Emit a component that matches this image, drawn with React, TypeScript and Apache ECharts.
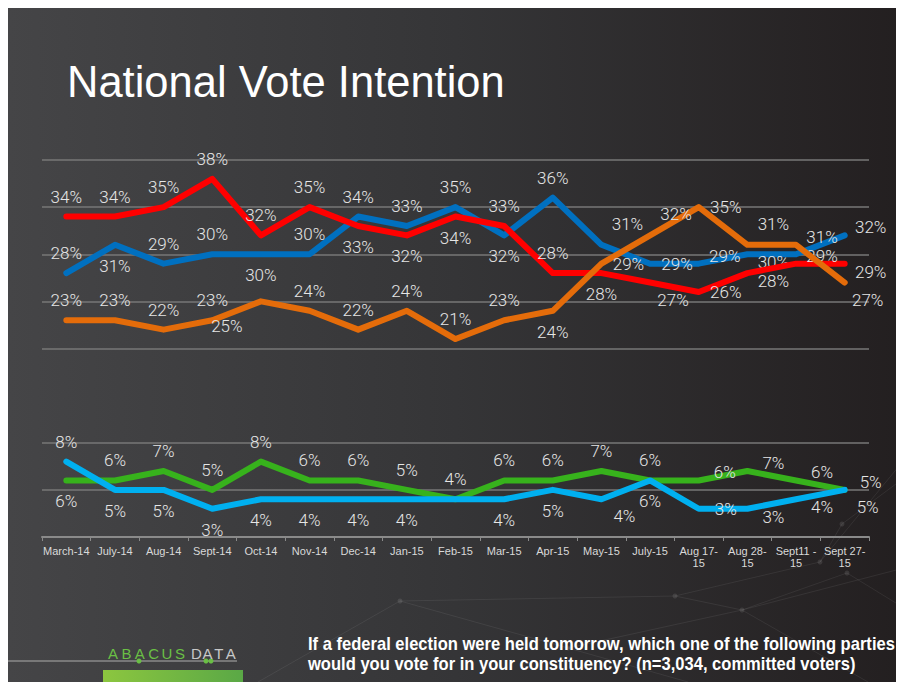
import React, { useEffect, useRef } from "react";
import * as echarts from "echarts";

// ---- data ----
const categories = [
  "March-14", "July-14", "Aug-14", "Sept-14", "Oct-14", "Nov-14", "Dec-14", "Jan-15", "Feb-15",
  "Mar-15", "Apr-15", "May-15", "July-15", "Aug 17-\n15", "Aug 28-\n15", "Sept11 -\n15", "Sept 27-\n15",
];
const conservative = [28, 31, 29, 30, 30, 30, 34, 33, 35, 32, 36, 31, 29, 29, 30, 30, 32];
const liberal = [34, 34, 35, 38, 32, 35, 33, 32, 34, 33, 28, 28, 27, 26, 28, 29, 29];
const ndp = [23, 23, 22, 23, 25, 24, 22, 24, 21, 23, 24, 29, 32, 35, 31, 31, 27];
const greenParty = [6, 6, 7, 5, 8, 6, 6, 5, 4, 6, 6, 7, 6, 6, 7, 6, 5];
const bloc = [8, 5, 5, 3, 4, 4, 4, 4, 4, 4, 5, 4, 6, 3, 3, 4, 5];
const yTicks = [0, 5, 10, 15, 20, 25, 30, 35, 40];

// ---- label placement (style) ----
const OFF: Record<string, number[]> = {
  T: [0, -20], B: [0, 21], R: [27, 0], RU: [26, -8], RD: [26, 8],
  TR: [26, -21], BR: [23, 17], BL: [-34, 25],
};
const placeCon = ["T","B","T","T","B","T","T","T","T","B","T","TR","R","RU","RD","-","RU"];
const placeLib = ["T","T","T","T","T","T","B","B","B","T","T","B","BR","R","RD","RU","RD"];
const placeNdp = ["T","T","T","T","BL","T","T","T","T","T","B","R","TR","R","TR","RU","BR"];
const placeGrn = ["B","T","T","T","T","T","T","T","T","T","T","T","T","RU","RU","RU","RU"];
const placeBloc = ["T","B","B","B","B","B","B","B","-","B","B","BR","B","R","RD","RD","BR"];

const GRID_C = "#777777";

function mkSeries(name: string, values: number[], color: string, place: string[], z: number) {
  return {
    name,
    type: "line",
    z,
    data: values.map((v, i) => ({
      value: v,
      label: place[i] === "-" ? { show: false } : { offset: OFF[place[i]] },
    })),
    symbol: "circle",
    symbolSize: 2,
    showSymbol: true,
    itemStyle: { color },
    lineStyle: { color, width: 6, cap: "round", join: "round" },
    label: {
      show: true,
      position: "inside",
      formatter: "{c}%",
      color: "#e6e6e6",
      fontFamily: "Roboto, 'Liberation Sans', sans-serif",
      fontWeight: 300,
      fontSize: 17,
    },
    emphasis: { disabled: true },
  };
}

export default function App() {
  const ref = useRef<HTMLDivElement>(null);
  useEffect(() => {
    if (!ref.current) return;
    const chart = echarts.init(ref.current, null, { renderer: "svg" });

    const deco = "rgba(255,255,255,0.07)";
    const abacus = "ABACUS".split("");
    const data = "DATA".split("");

    const graphics: any[] = [
      // decorative network lines
      { type: "polyline", silent: true, shape: { points: [[250, 674], [392, 593], [560, 640], [680, 674]] }, style: { stroke: deco, lineWidth: 1, fill: "none" } },
      { type: "polyline", silent: true, shape: { points: [[392, 593], [667, 588], [734, 602], [896, 560]] }, style: { stroke: deco, lineWidth: 1, fill: "none" } },
      { type: "polyline", silent: true, shape: { points: [[667, 588], [812, 554], [896, 452]] }, style: { stroke: deco, lineWidth: 1, fill: "none" } },
      { type: "polyline", silent: true, shape: { points: [[812, 554], [834, 516], [896, 470]] }, style: { stroke: deco, lineWidth: 1, fill: "none" } },
      { type: "polyline", silent: true, shape: { points: [[734, 602], [839, 565], [896, 600]] }, style: { stroke: deco, lineWidth: 1, fill: "none" } },
      { type: "polyline", silent: true, shape: { points: [[560, 640], [734, 602], [860, 674]] }, style: { stroke: deco, lineWidth: 1, fill: "none" } },
      ...[[392, 593], [667, 588], [734, 602], [812, 554], [834, 516], [839, 565], [560, 640]].map((p) => ({
        type: "circle", silent: true, shape: { cx: p[0], cy: p[1], r: 2.5 }, style: { fill: "rgba(255,255,255,0.1)" },
      })),
      // title
      {
        type: "text", left: 59, top: 52,
        style: { text: "National Vote Intention", fill: "#ffffff", fontSize: 43.5, fontFamily: "'Liberation Sans', Arial, sans-serif" },
      },
      // question text
      {
        type: "text", x: 300, y: 626, scaleX: 0.92,
        style: {
          text: "If a federal election were held tomorrow, which one of the following parties\nwould you vote for in your constituency? (n=3,034, committed voters)",
          fill: "#ffffff", fontSize: 18, fontWeight: "bold", lineHeight: 20,
          fontFamily: "'Liberation Sans', Arial, sans-serif",
        },
      },
      // logo
      { type: "line", silent: true, shape: { x1: 0, y1: 653, x2: 229, y2: 653 }, style: { stroke: "#8a8a8a", lineWidth: 1.5 } },
      { type: "circle", silent: true, shape: { cx: 131, cy: 653, r: 2.5 }, style: { fill: "#6abf45" } },
      { type: "circle", silent: true, shape: { cx: 198, cy: 653, r: 2.5 }, style: { fill: "#6abf45" } },
      { type: "circle", silent: true, shape: { cx: 203, cy: 653, r: 2.5 }, style: { fill: "#6abf45" } },
      {
        type: "rect", silent: true, shape: { x: 95, y: 662, width: 140, height: 14 },
        style: { fill: new echarts.graphic.LinearGradient(0, 0, 1, 0, [{ offset: 0, color: "#8cc63f" }, { offset: 1, color: "#5aa846" }]) },
      },
      ...abacus.map((ch, i) => ({
        type: "text", silent: true, x: 100 + i * 13.4, y: 638,
        style: { text: ch, fill: "#6abf45", fontSize: 15, fontFamily: "'Liberation Sans', Arial, sans-serif" },
      })),
      ...data.map((ch, i) => ({
        type: "text", silent: true, x: 183 + i * 11.6, y: 638,
        style: { text: ch, fill: "#c8c8c8", fontSize: 15, fontFamily: "'Liberation Sans', Arial, sans-serif" },
      })),
    ];

    chart.setOption({
      animation: false,
      backgroundColor: new echarts.graphic.LinearGradient(0, 0, 1, 0, [
        { offset: 0, color: "#454547" },
        { offset: 0.5, color: "#353537" },
        { offset: 1, color: "#231f20" },
      ]),
      grid: { left: 34, right: 35, top: 152, bottom: 145, containLabel: false },
      xAxis: {
        type: "category",
        data: categories,
        boundaryGap: true,
        axisLine: { lineStyle: { color: "#8a8a8a", width: 2 } },
        axisTick: { show: true, length: 4, lineStyle: { color: "#8a8a8a", width: 1 } },
        axisLabel: {
          interval: 0, color: "#d9d9d9", fontSize: 11, margin: 8, lineHeight: 12,
          fontFamily: "'Liberation Sans', Arial, sans-serif",
        },
      },
      yAxis: {
        type: "value",
        min: yTicks[0],
        max: yTicks[yTicks.length - 1],
        interval: 5,
        axisLine: { show: false },
        axisTick: { show: false },
        axisLabel: { show: false },
        splitLine: {
          show: true,
          showMinLine: true,
          showMaxLine: true,
          lineStyle: {
            color: yTicks.map((t) => (t === 0 || t === 15 ? "rgba(0,0,0,0)" : GRID_C)),
            width: 1.5,
          },
        },
      },
      graphic: graphics,
      series: [
        mkSeries("Conservative", conservative, "#0070c0", placeCon, 2),
        mkSeries("Liberal", liberal, "#ff0000", placeLib, 3),
        mkSeries("NDP", ndp, "#e46c0a", placeNdp, 4),
        mkSeries("Green", greenParty, "#37b21c", placeGrn, 2),
        mkSeries("Bloc", bloc, "#00b0f0", placeBloc, 3),
      ],
    });
    return () => chart.dispose();
  }, []);
  return <div ref={ref} style={{ width: 896, height: 674 }} />;
}
